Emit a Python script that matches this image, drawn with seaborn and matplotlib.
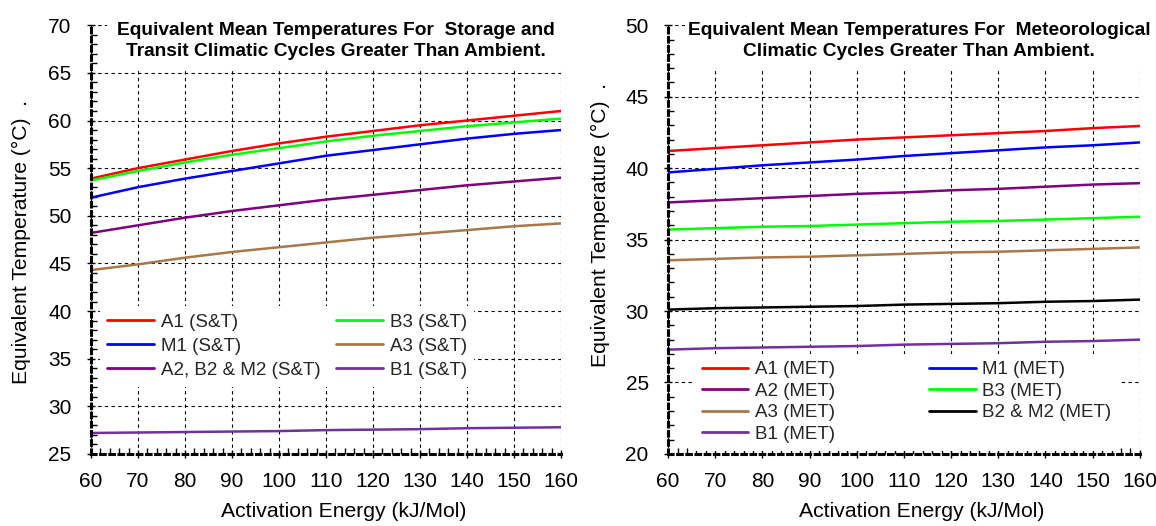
import numpy as np
import pandas as pd
import matplotlib
matplotlib.use("Agg")
import matplotlib.pyplot as plt
import seaborn as sns
from matplotlib.patches import Rectangle
from matplotlib.ticker import MultipleLocator

sns.set_theme(style="white")
plt.rcParams['font.family'] = ['Liberation Sans', 'DejaVu Sans']

energy = [60, 70, 80, 90, 100, 110, 120, 130, 140, 150, 160]

# Storage & Transit
st_labels = ["A1 (S&T)", "M1 (S&T)", "A2, B2 & M2 (S&T)", "B3 (S&T)", "A3 (S&T)", "B1 (S&T)"]
st_A1 = [53.9, 55.0, 55.9, 56.8, 57.6, 58.3, 58.9, 59.5, 60.0, 60.5, 61.0]
st_M1 = [51.9, 53.0, 53.9, 54.7, 55.5, 56.3, 56.9, 57.5, 58.1, 58.6, 59.0]
st_A2B2M2 = [48.2, 49.0, 49.8, 50.5, 51.1, 51.7, 52.2, 52.7, 53.2, 53.6, 54.0]
st_B3 = [53.7, 54.7, 55.6, 56.4, 57.1, 57.8, 58.4, 58.9, 59.4, 59.8, 60.2]
st_A3 = [44.3, 44.9, 45.6, 46.2, 46.7, 47.2, 47.7, 48.1, 48.5, 48.9, 49.2]
st_B1 = [27.2, 27.25, 27.3, 27.35, 27.4, 27.5, 27.55, 27.6, 27.7, 27.75, 27.8]

# Meteorological
met_labels = ["A1 (MET)", "A2 (MET)", "A3 (MET)", "B1 (MET)", "M1 (MET)", "B3 (MET)", "B2 & M2 (MET)"]
met_A1 = [41.2, 41.4, 41.6, 41.8, 42.0, 42.15, 42.3, 42.45, 42.6, 42.8, 42.95]
met_A2 = [37.6, 37.75, 37.9, 38.05, 38.2, 38.3, 38.45, 38.55, 38.7, 38.85, 38.95]
met_A3 = [33.55, 33.65, 33.75, 33.8, 33.9, 34.0, 34.1, 34.15, 34.25, 34.35, 34.45]
met_B1 = [27.3, 27.4, 27.45, 27.5, 27.55, 27.65, 27.7, 27.75, 27.85, 27.9, 28.0]
met_M1 = [39.7, 39.95, 40.2, 40.4, 40.6, 40.85, 41.05, 41.25, 41.45, 41.6, 41.8]
met_B3 = [35.7, 35.8, 35.9, 35.95, 36.05, 36.15, 36.25, 36.3, 36.4, 36.5, 36.6]
met_B2M2 = [30.1, 30.2, 30.25, 30.3, 30.35, 30.45, 30.5, 30.55, 30.65, 30.7, 30.8]

st_colors = ["#FF0000", "#0000FF", "#800080", "#00FF00", "#A6784A", "#7030A0"]
met_colors = ["#FF0000", "#800080", "#A6784A", "#7030A0", "#0000FF", "#00FF00", "#000000"]

st_series = [st_A1, st_M1, st_A2B2M2, st_B3, st_A3, st_B1]
met_series = [met_A1, met_A2, met_A3, met_B1, met_M1, met_B3, met_B2M2]


def long_df(labels, series):
    rows = []
    for lab, vals in zip(labels, series):
        for e, v in zip(energy, vals):
            rows.append({"E": e, "T": v, "S": lab})
    return pd.DataFrame(rows)


fig = plt.figure(figsize=(11.56, 5.26), dpi=100)
ax1 = fig.add_axes([0.0787, 0.137, 0.4066, 0.815])
ax2 = fig.add_axes([0.578, 0.137, 0.408, 0.815])

TICK_FS = 15
LAB_FS = 15.2
LEG_FS = 13.5
TITLE_FS = 13.8


def style_axis(ax, ylim, title_lines, title_x, ylab_xy):
    ax.set_xlim(60, 160)
    ax.set_ylim(*ylim)
    ax.xaxis.set_major_locator(MultipleLocator(10))
    ax.xaxis.set_minor_locator(MultipleLocator(2))
    ax.yaxis.set_major_locator(MultipleLocator(5))
    ax.yaxis.set_minor_locator(MultipleLocator(1))
    ax.grid(True, which="major", color="black", linestyle=(0, (3, 3)), linewidth=0.8)
    ax.set_axisbelow(True)
    for s in ["top", "right"]:
        ax.spines[s].set_visible(False)
    for s in ["left", "bottom"]:
        ax.spines[s].set_linestyle((0, (1.5, 1.5)))
        ax.spines[s].set_linewidth(2.2)
        ax.spines[s].set_color("black")
    ax.tick_params(axis="both", which="major", direction="inout", length=6, width=1,
                   colors="black", labelsize=TICK_FS, left=True, bottom=True)
    ax.tick_params(axis="both", which="minor", direction="in", length=4, width=1,
                   colors="black", left=True, bottom=True)
    ax.tick_params(axis="x", which="major", pad=10)
    ax.tick_params(axis="y", which="major", pad=11)
    ax.set_xlabel("Activation Energy (kJ/Mol)", fontsize=LAB_FS, color="black")
    ax.xaxis.set_label_coords(0.538, -0.113)
    ax.set_ylabel("Equivalent Temperature (°C)  .", fontsize=LAB_FS, color="black")
    ax.yaxis.set_label_coords(*ylab_xy)
    rect = Rectangle((0.035, 0.895), 1.0, 0.12, transform=ax.transAxes,
                     facecolor="white", edgecolor="none", zorder=3, clip_on=False)
    ax.add_patch(rect)
    ax.text(title_x, 1.008, title_lines, transform=ax.transAxes, ha="center", va="top",
            fontsize=TITLE_FS, fontweight="bold", linespacing=1.33, zorder=4, color="black")


# Left plot
df1 = long_df(st_labels, st_series)
sns.lineplot(data=df1, x="E", y="T", hue="S", hue_order=st_labels,
             palette=dict(zip(st_labels, st_colors)), linewidth=1.8, ax=ax1)
style_axis(ax1, (25, 70),
           "Equivalent Mean Temperatures For  Storage and\nTransit Climatic Cycles Greater Than Ambient.",
           0.521, (-0.128, 0.494))
h, l = ax1.get_legend_handles_labels()
leg1 = ax1.legend(h, l, ncol=2, loc="upper left", bbox_to_anchor=(0.011, 0.354),
                  fontsize=LEG_FS, frameon=True, facecolor="white", edgecolor="none",
                  framealpha=1, handlelength=2.5, handletextpad=0.35, labelspacing=0.38,
                  columnspacing=0.85, borderaxespad=0.2, fancybox=False)
for line in leg1.get_lines():
    line.set_linewidth(2)

# Right plot
df2 = long_df(met_labels, met_series)
sns.lineplot(data=df2, x="E", y="T", hue="S", hue_order=met_labels,
             palette=dict(zip(met_labels, met_colors)), linewidth=1.8, ax=ax2)
style_axis(ax2, (20, 50),
           "Equivalent Mean Temperatures For  Meteorological\nClimatic Cycles Greater Than Ambient.",
           0.532, (-0.123, 0.534))
h, l = ax2.get_legend_handles_labels()
leg2 = ax2.legend(h, l, ncol=2, loc="upper left", bbox_to_anchor=(0.047, 0.243),
                  fontsize=LEG_FS, frameon=True, facecolor="white", edgecolor="none",
                  framealpha=1, handlelength=2.5, handletextpad=0.35, labelspacing=0.24,
                  columnspacing=5.0, borderaxespad=0.2, fancybox=False)
for line in leg2.get_lines():
    line.set_linewidth(2)

fig.savefig("out.png", dpi=100)
